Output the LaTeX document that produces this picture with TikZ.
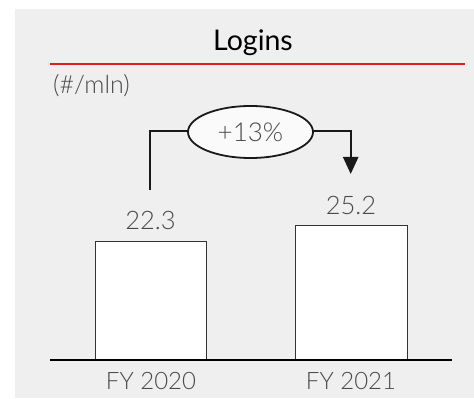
\documentclass[tikz,border=0pt]{standalone}
\usepackage{fontspec}
\setmainfont{Lato}
\newfontfamily\lightfont{Lato Light}
\usetikzlibrary{arrows.meta,shapes.geometric}
\definecolor{panelgray}{HTML}{EFEFEF}
\definecolor{txtgray}{HTML}{4A4A4A}
\definecolor{titlered}{RGB}{220,30,30}
\begin{document}
\begin{tikzpicture}[x=1pt,y=1pt,
  numtxt/.style={inner sep=0pt, text=txtgray, font=\lightfont\fontsize{25.5}{25.5}\selectfont},
  cattxt/.style={inner sep=0pt, text=txtgray, font=\lightfont\fontsize{24}{24}\selectfont},
  barbox/.style={draw=black!80, line width=0.8pt, fill=white},
  conn/.style={draw=black!90, line width=2.4pt}]
\useasboundingbox (0,0) rectangle (474,399);
\fill[panelgray] (15,1) rectangle (474,390);
% title
\node[inner sep=0pt, font=\fontsize{28.5}{28.5}\selectfont] (title) at (253,356) {Logins};
\coordinate (rl) at (50,335);
\coordinate (rr) at (465,335);
\draw[draw=titlered, line width=1.2pt] (rl) -- (rr);
\node[inner sep=0pt, anchor=west, text=txtgray, font=\lightfont\fontsize{25}{25}\selectfont] (unit) at (53,313) {(\#/mln)};
% baseline
\coordinate (bl) at (50,39);
\coordinate (br) at (452,39);
% bars
\node[barbox, minimum width=111pt, minimum height=118pt, inner sep=0pt, anchor=south] (b1) at (150.5,39) {};
\node[barbox, minimum width=112pt, minimum height=134pt, inner sep=0pt, anchor=south] (b2) at (351,39) {};
\draw[black, line width=2.2pt] (bl) -- (br);
% values
\node[numtxt] (v1) at (150.5,179) {22.3};
\node[numtxt] (v2) at (351,194) {25.2};
% categories
\node[cattxt] (c1) at (151,17.5) {FY 2020};
\node[cattxt] (c2) at (351,17.5) {FY 2021};
% growth
\draw[draw=black!90, line width=1.8pt, fill=white!98!black] (250.5,267) ellipse [x radius=62.5pt, y radius=26pt];
\node[ellipse, minimum width=125pt, minimum height=52pt, inner sep=0pt] (g) at (250.5,267) {};
\node[inner sep=0pt, text=txtgray, font=\lightfont\fontsize{26}{26}\selectfont] (gt) at (250.5,266.5) {+13\%};
\coordinate (s) at (150,209);
\coordinate (e) at (350.7,225);
\coordinate (gl) at (188,268);
\coordinate (gr) at (313,268);
\draw[conn] (s) |- (gl);
\draw[conn, -{Triangle[length=17pt,width=15pt]}] (gr) -| (e);
\end{tikzpicture}
\end{document}
